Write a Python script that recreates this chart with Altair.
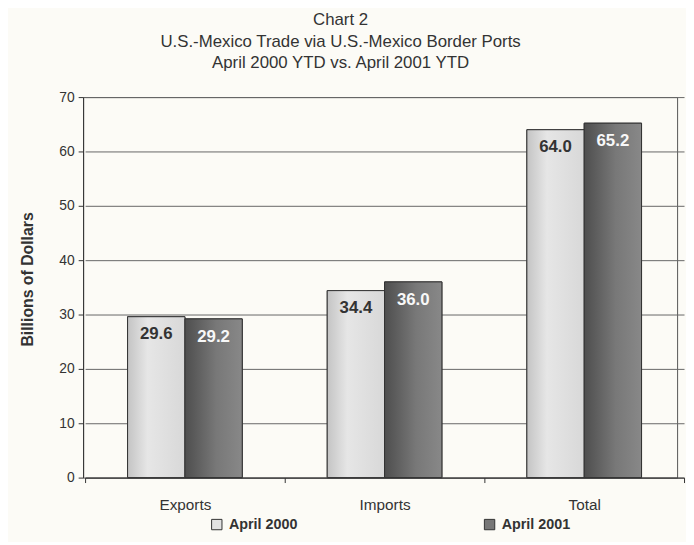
import altair as alt
import pandas as pd

categories = ["Exports", "Imports", "Total"]
april_2000 = [29.6, 34.4, 64.0]
april_2001 = [29.2, 36.0, 65.2]
series = ["April 2000", "April 2001"]

rows = []
for c, a, b in zip(categories, april_2000, april_2001):
    rows.append({"category": c, "series": series[0], "value": a, "label": f"{a:.1f}"})
    rows.append({"category": c, "series": series[1], "value": b, "label": f"{b:.1f}"})
df = pd.DataFrame(rows)

FONT = "Liberation Sans"
TXT = "#333333"

x_enc = alt.X(
    "category:N",
    sort=categories,
    scale=alt.Scale(paddingInner=0, paddingOuter=0, range=[2, 608]),
    axis=alt.Axis(
        title=None, labelAngle=0, tickBand="extent", labelFontSize=15.5,
        labelFont=FONT, labelColor=TXT, labelPadding=15, tickSize=5,
        tickColor="#333", domainColor="#333",
    ),
)
xoff = alt.XOffset("series:N", sort=series, scale=alt.Scale(paddingInner=0, paddingOuter=0.741))
y_enc = alt.Y(
    "value:Q",
    scale=alt.Scale(domain=[0, 70]),
    axis=alt.Axis(
        title="Billions of Dollars", values=list(range(0, 71, 10)), titleFont=FONT,
        titleFontSize=16, titleFontWeight="bold", titleColor=TXT, titlePadding=24,
        titleY=184,
        labelFont=FONT, labelFontSize=14, labelColor=TXT, tickSize=5,
        tickColor="#333", domainColor="#333", gridColor="#666", gridOpacity=1,
        labelPadding=4,
    ),
)

base = alt.Chart(df).encode(x=x_enc, xOffset=xoff, y=y_enc)

flat = base.mark_bar(stroke="#333", strokeWidth=1).encode(
    fill=alt.Fill(
        "series:N", sort=series,
        scale=alt.Scale(domain=series, range=["#e2e2e2", "#777777"]),
        legend=alt.Legend(
            title=None, orient="none", direction="horizontal", legendX=128,
            legendY=425, symbolType="square", symbolSize=110,
            symbolStrokeColor="#333", symbolStrokeWidth=1, labelFont=FONT,
            labelFontSize=14.5, labelFontWeight="bold", labelColor=TXT,
            columnPadding=187, labelOffset=5,
        ),
    )
)

light_grad = alt.LinearGradient(
    gradient="linear", x1=0, x2=1, y1=0, y2=0,
    stops=[
        alt.GradientStop(color="#c4c4c4", offset=0),
        alt.GradientStop(color="#e6e6e6", offset=0.35),
        alt.GradientStop(color="#d8d8d8", offset=1),
    ],
)
dark_grad = alt.LinearGradient(
    gradient="linear", x1=0, x2=1, y1=0, y2=0,
    stops=[
        alt.GradientStop(color="#4e4e4e", offset=0),
        alt.GradientStop(color="#787878", offset=0.55),
        alt.GradientStop(color="#888888", offset=1),
    ],
)

g1 = base.transform_filter(alt.datum.series == series[0]).mark_bar(
    fill=light_grad, stroke="#333", strokeWidth=1
)
g2 = base.transform_filter(alt.datum.series == series[1]).mark_bar(
    fill=dark_grad, stroke="#333", strokeWidth=1
)

labels = base.mark_text(
    baseline="middle", dy=18, font=FONT, fontSize=17, fontWeight="bold"
).encode(
    text="label:N",
    color=alt.condition(alt.datum.series == series[0], alt.value("#333333"), alt.value("#f8f8f8")),
)

chart = (
    alt.layer(flat, g1, g2, labels)
    .properties(
        width=601,
        height=385,
        autosize=alt.AutoSizeParams(type="none"),
        padding={"left": 76, "top": 87, "right": 9, "bottom": 62},
        background="#fcfbf6",
        title=alt.TitleParams(
            text=["Chart 2", "U.S.-Mexico Trade via U.S.-Mexico Border Ports", "April 2000 YTD  vs. April 2001 YTD"],
            font=FONT, fontSize=17, fontWeight="normal", color=TXT,
            lineHeight=22, anchor="middle", dx=-40, offset=18,
        ),
    )
    .configure_view(stroke="#555", strokeWidth=1)
)

chart.save("out.html", embed_options={"renderer": "svg", "actions": False})
